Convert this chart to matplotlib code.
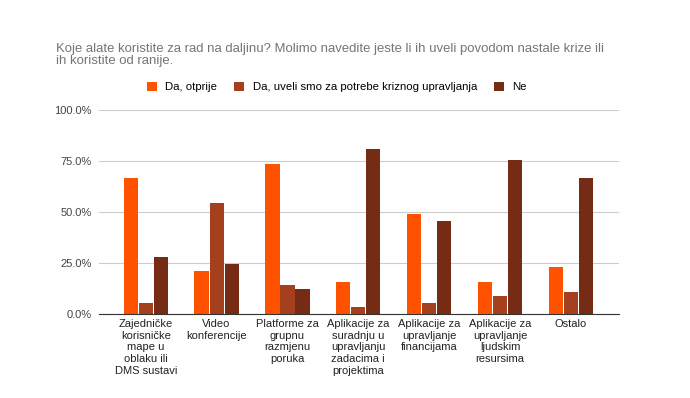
import matplotlib.pyplot as plt
import numpy as np

plt.rcParams['font.family'] = ['Liberation Sans', 'DejaVu Sans']

categories = [
    'Zajedničke\nkorisničke\nmape u\noblaku ili\nDMS sustavi',
    'Video\nkonferencije',
    'Platforme za\ngrupnu\nrazmjenu\nporuka',
    'Aplikacije za\nsuradnju u\nupravljanju\nzadacima i\nprojektima',
    'Aplikacije za\nupravljanje\nfinancijama',
    'Aplikacije za\nupravljanje\nljudskim\nresursima',
    'Ostalo',
]
series_names = ['Da, otprije', 'Da, uveli smo za potrebe kriznog upravljanja', 'Ne']
otprije = [66.7, 21.1, 73.5, 15.4, 48.9, 15.4, 23.0]
uveli = [5.1, 54.1, 13.9, 3.4, 5.2, 8.5, 10.5]
ne = [27.9, 24.2, 12.3, 80.6, 45.6, 75.5, 66.7]
colors = ['#ff5200', '#a5401e', '#752b14']

fig = plt.figure(figsize=(6.9, 3.98), dpi=100)
ax = fig.add_axes([99 / 690, 84.3 / 398, 520 / 690, 204 / 398])

x = np.arange(len(categories))
step = 0.212
width = 0.2
for i, (vals, name) in enumerate(zip([otprije, uveli, ne], series_names)):
    ax.bar(x + (i - 1) * step, vals, width, color=colors[i], label=name, zorder=3)

ax.set_xlim(-0.66, 6.68)
ax.set_ylim(0, 100)
ax.set_yticks([0, 25, 50, 75, 100])
ax.set_yticklabels(['0.0%', '25.0%', '50.0%', '75.0%', '100.0%'])
ax.set_xticks(x)
ax.set_xticklabels(categories, fontsize=8, color='#222222', linespacing=1.2)
ax.tick_params(axis='y', labelsize=8, colors='#444444', length=0, pad=5)
ax.tick_params(axis='x', length=0, pad=4)
ax.grid(axis='y', color='#cccccc', linewidth=0.8, zorder=0)
for s in ['top', 'right', 'left']:
    ax.spines[s].set_visible(False)
ax.spines['bottom'].set_color('#333333')
ax.spines['bottom'].set_zorder(4)

fig.text(56 / 690, 1 - 43 / 398,
         'Koje alate koristite za rad na daljinu? Molimo navedite jeste li ih uveli povodom nastale krize ili\nih koristite od ranije.',
         fontsize=9.45, color='#757575', va='top', ha='left', linespacing=1.0)

fig.legend(loc='center', bbox_to_anchor=(337 / 690, 1 - 87 / 398), ncol=3, frameon=False,
           fontsize=8.2, handlelength=0.85, handleheight=0.85, handletextpad=0.75,
           columnspacing=1.5)

fig.savefig('out.png', dpi=100, facecolor='white')
